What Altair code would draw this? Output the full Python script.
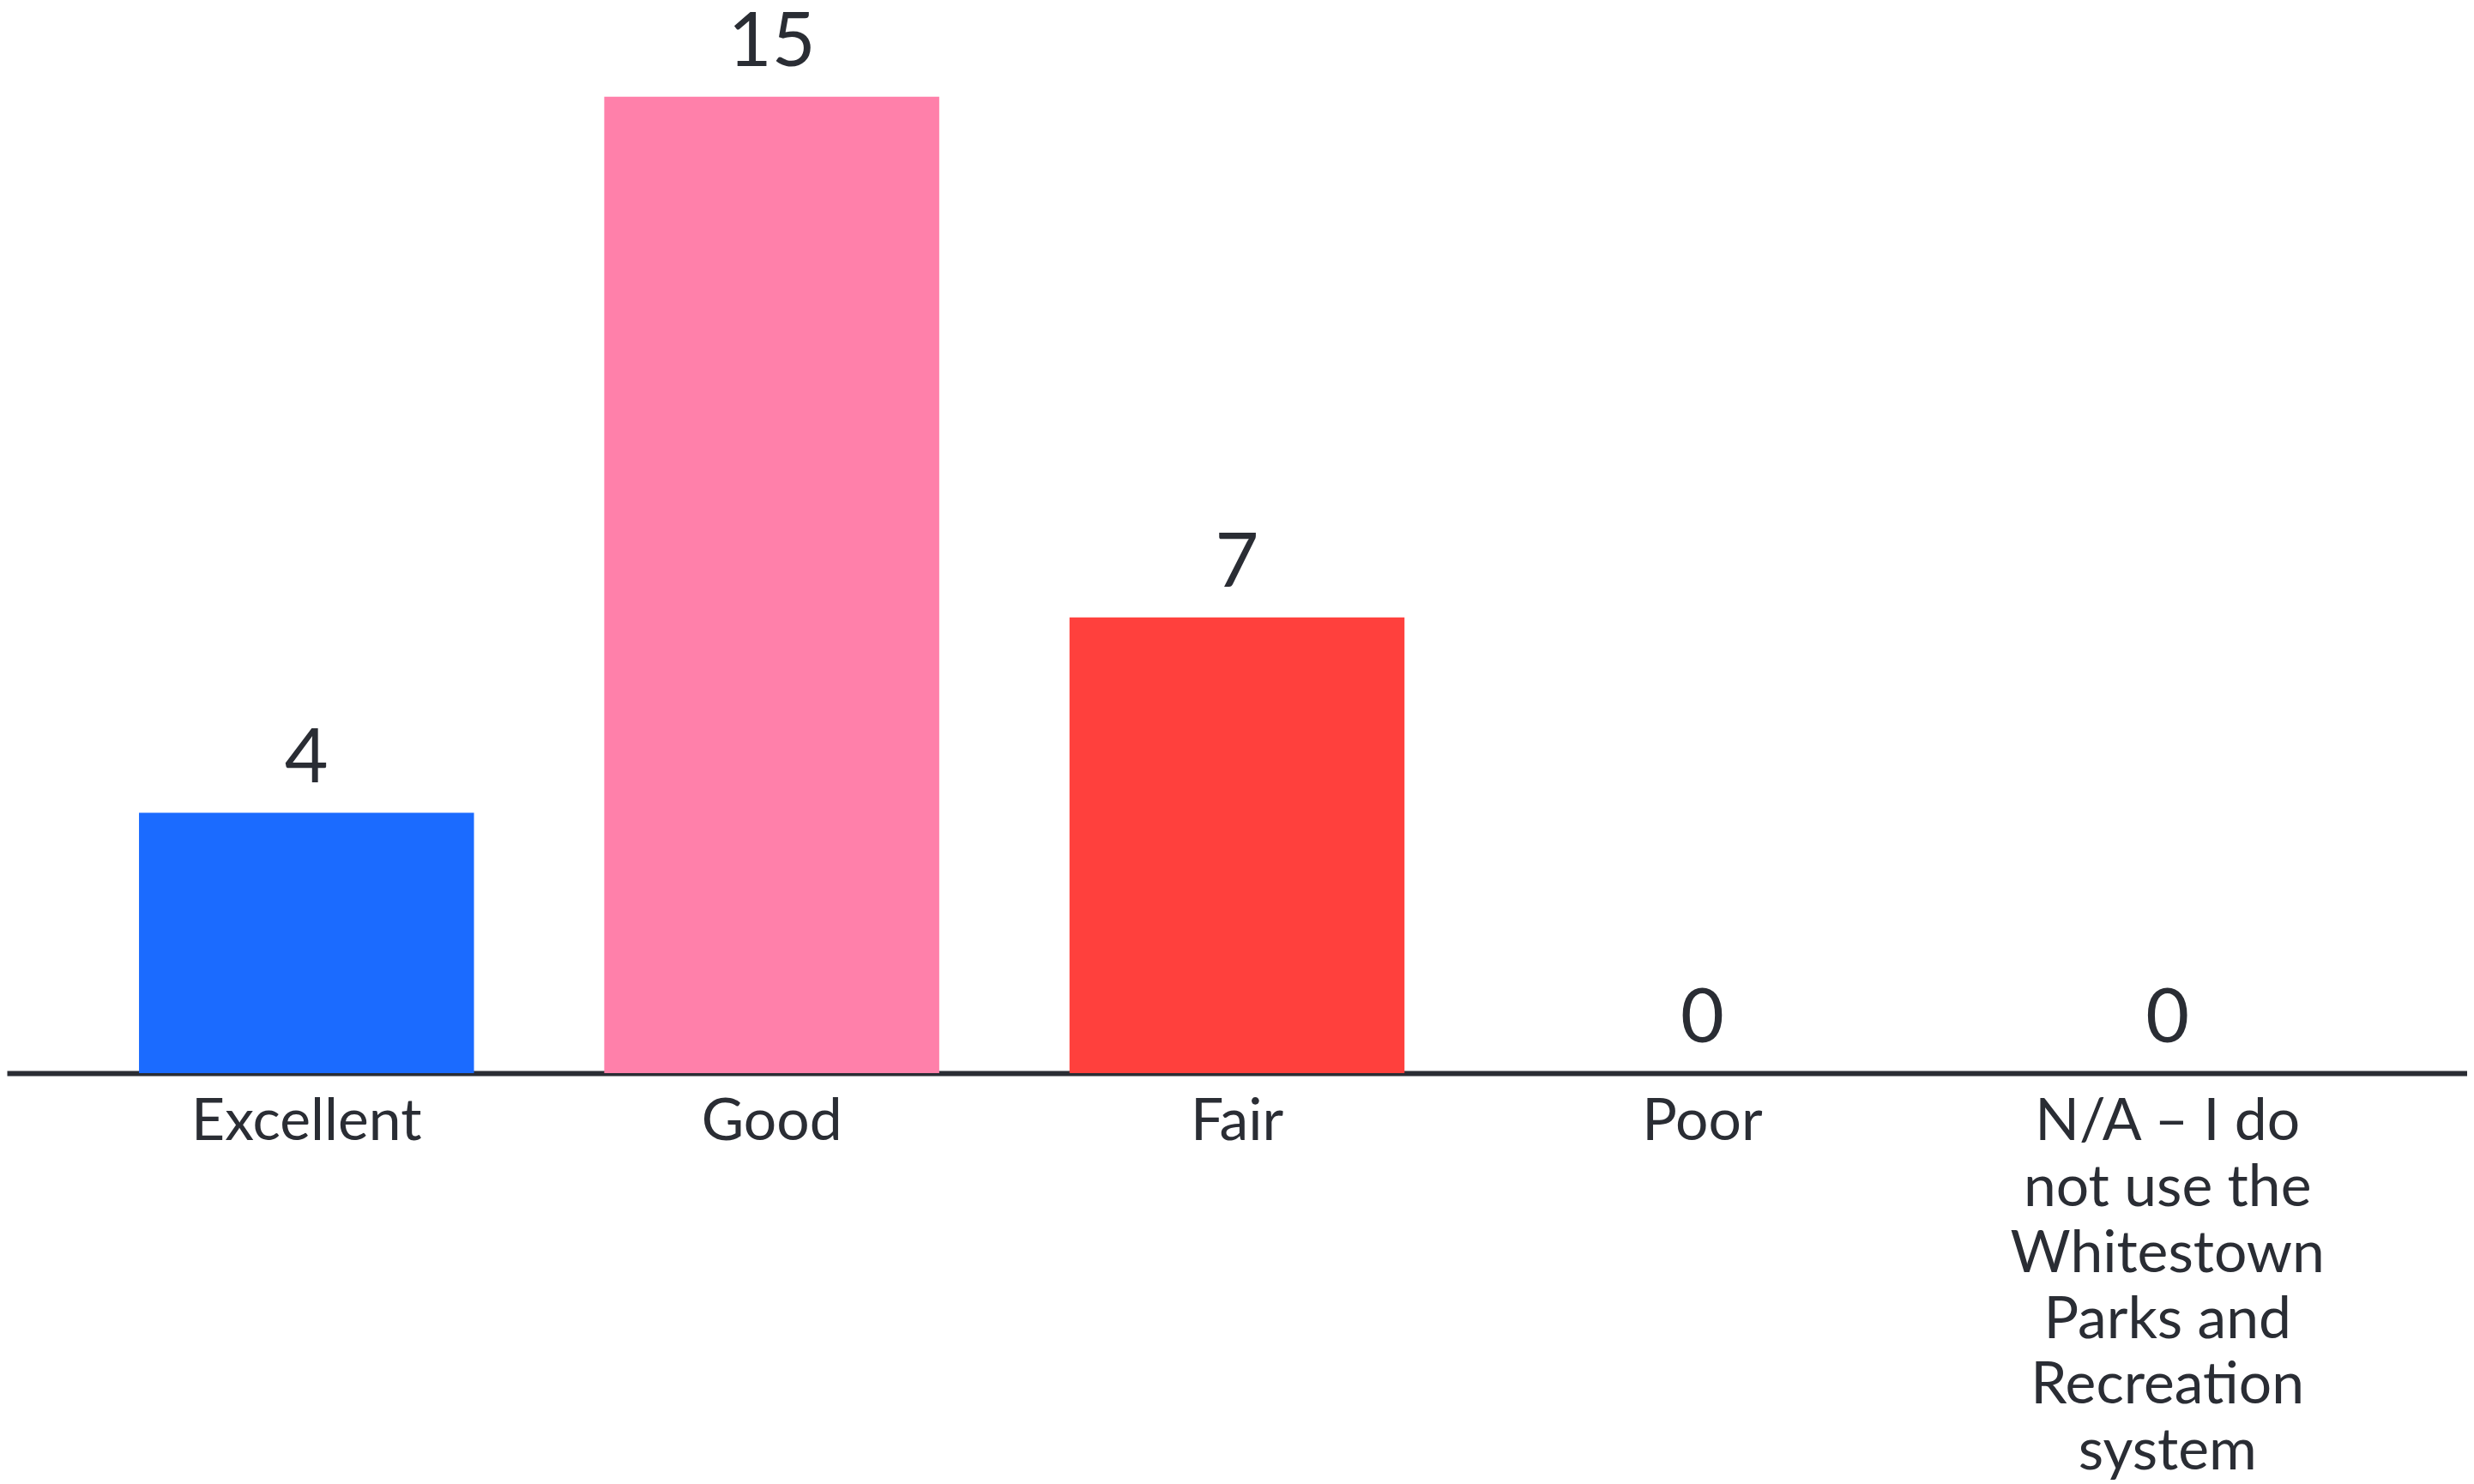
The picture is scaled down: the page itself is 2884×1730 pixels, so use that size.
import altair as alt
import pandas as pd
import json

categories = ["Excellent", "Good", "Fair", "Poor",
              "N/A – I do not use the Whitestown Parks and Recreation system"]
counts = [4, 15, 7, 0, 0]
colors = ["#1b6bff", "#ff80aa", "#ff403d", "#9aa0a6", "#9aa0a6"]
wrapped = {
    "N/A – I do not use the Whitestown Parks and Recreation system":
        ["N/A – I do", "not use the", "Whitestown", "Parks and", "Recreation", "system"],
}

df = pd.DataFrame({"category": categories, "count": counts, "color": colors})

label_expr = "datum.label"
for k, v in wrapped.items():
    label_expr = f"datum.label == {json.dumps(k, ensure_ascii=False)} ? {json.dumps(v, ensure_ascii=False)} : " + label_expr

FONT = "Lato"
TXT = "#2a2d34"

x = alt.X("category:N", sort=categories, title=None,
          scale=alt.Scale(paddingInner=0.28, paddingOuter=0.284),
          axis=alt.Axis(labelAngle=0, labelFontSize=68, labelFont=FONT, labelColor=TXT,
                        labelLineHeight=77, labelPadding=24, labelLimit=0,
                        labelExpr=label_expr, ticks=False, domainColor=TXT,
                        domainWidth=6, labelBaseline="top"))
y = alt.Y("count:Q", title=None, scale=alt.Scale(domain=[0, 16.35], nice=False),
          axis=None)

bars = alt.Chart(df).mark_bar().encode(
    x=x, y=y, color=alt.Color("color:N", scale=None)
)
text = alt.Chart(df).mark_text(dy=-36, baseline="alphabetic", fontSize=88, font=FONT,
                               color=TXT).encode(
    x=alt.X("category:N", sort=categories), y="count:Q", text="count:Q"
)

chart = alt.layer(bars, text).properties(
    width=2876, height=1244,
    padding={"left": 0, "top": 0, "right": 0, "bottom": 486},
    autosize=alt.AutoSizeParams(type="none"),
    background="white",
).configure_view(stroke=None).configure_axis(grid=False)

chart.save("out.html", embed_options={"renderer": "svg", "actions": False})
